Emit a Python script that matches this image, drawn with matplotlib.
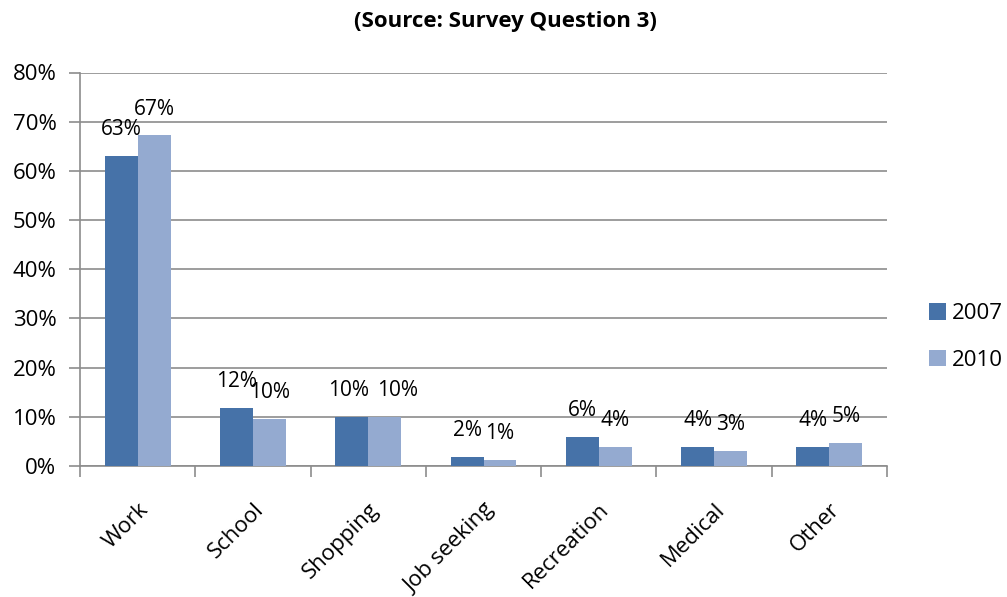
import matplotlib
matplotlib.use("Agg")
import matplotlib.pyplot as plt
import numpy as np

categories = ["Work", "School", "Shopping", "Job seeking", "Recreation", "Medical", "Other"]
series_names = ["2007", "2010"]
values_2007 = [63.0, 11.8, 10.0, 1.9, 5.9, 3.8, 3.8]
values_2010 = [67.2, 9.6, 10.0, 1.3, 3.9, 3.1, 4.6]
y_ticks = [0, 10, 20, 30, 40, 50, 60, 70, 80]
title = "(Source: Survey Question 3)"

colors = ["#4672A8", "#94AAD0"]
grid_color = "#8C8C8C"
fs = 16

plt.rcParams['font.family'] = ['Open Sans', 'DejaVu Sans']

fig = plt.figure(figsize=(10.07, 5.97), dpi=100)
ax = fig.add_axes([80/1007, 1-466/597, (887-80)/1007, (466-72.5)/597])

x = np.arange(len(categories))
w = 0.286
series = [values_2007, values_2010]
for i, (vals, name) in enumerate(zip(series, series_names)):
    pos = x + (i - 0.5) * w
    ax.bar(pos, vals, width=w, color=colors[i], label=name, zorder=3, linewidth=0)

# data labels; when both labels of a group sit at the same height, push them apart
for k in range(len(categories)):
    same = abs(values_2007[k] - values_2010[k]) < 0.3
    for i, vals in enumerate(series):
        p = x[k] + (i - 0.5) * w
        v = vals[k]
        dx = (-2 if i == 0 else 9) if same else 0
        ax.annotate(f"{v:.0f}%", xy=(p, v), xytext=(dx, 19), textcoords="offset points",
                    ha="center", va="center", fontsize=15, zorder=4)

ax.set_xlim(-0.5, len(categories) - 0.5)
ax.set_ylim(0, 80)
ax.set_yticks(y_ticks)
ax.set_yticklabels([f"{t}%" for t in y_ticks], fontsize=fs)
ax.yaxis.grid(True, color=grid_color, linewidth=1.2, zorder=0)
ax.tick_params(axis='y', length=8, color=grid_color, width=1.2, pad=9)

ax.set_xticks(x)
ax.set_xticklabels(categories, rotation=45, ha="right", rotation_mode="anchor", fontsize=fs)
ax.tick_params(axis='x', length=0, pad=24)
ax.set_xticks(np.arange(len(categories) + 1) - 0.5, minor=True)
ax.tick_params(axis='x', which='minor', length=8, color=grid_color, width=1.2)

for s in ["top", "right"]:
    ax.spines[s].set_visible(False)
for s in ["left", "bottom"]:
    ax.spines[s].set_color(grid_color)
    ax.spines[s].set_linewidth(1.2)

fig.text(505/1007, 1-22/597, title, ha="center", va="center", fontsize=16, fontweight="bold")

leg = ax.legend(loc="center left", bbox_to_anchor=((929-80)/807, (466-337)/393.5), frameon=False,
                fontsize=fs, handlelength=0.75, handleheight=0.75, labelspacing=1.15,
                handletextpad=0.3, borderpad=0, borderaxespad=0)

fig.savefig("out.png", dpi=100)
